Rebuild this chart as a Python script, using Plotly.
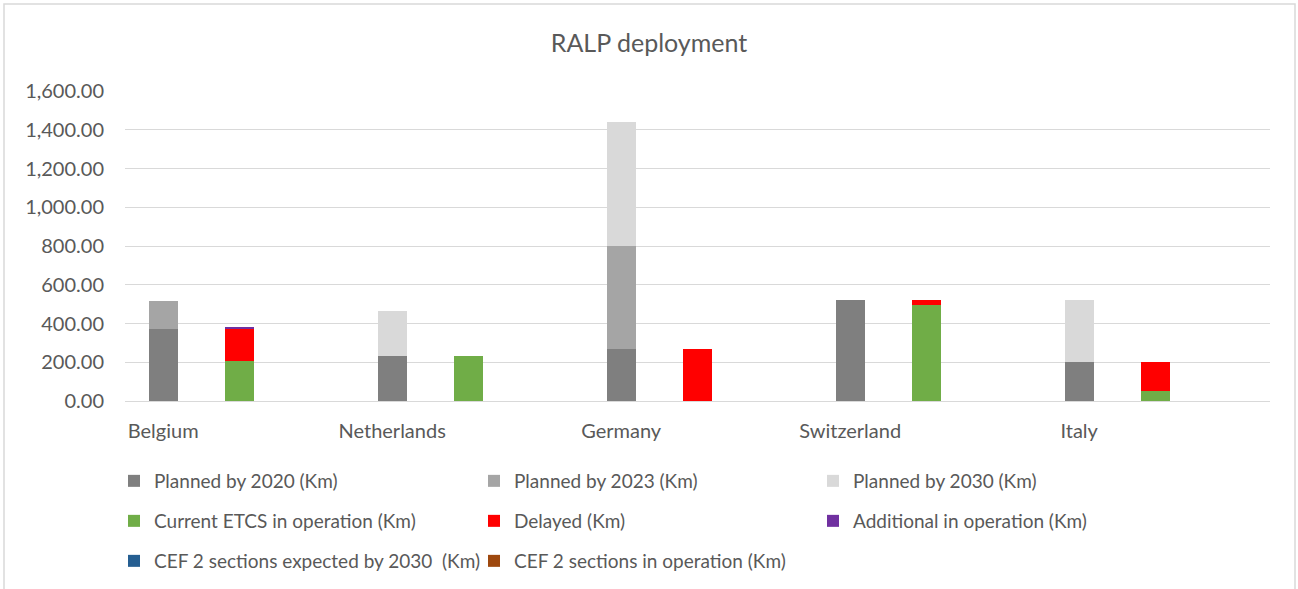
import plotly.graph_objects as go

countries = ['Belgium', 'Netherlands', 'Germany', 'Switzerland', 'Italy']

# planned stack (first bar of each country)
planned_2020 = [370, 234, 267, 522, 203]
planned_2023 = [147, None, 534, None, None]
planned_2030 = [None, 229, 639, None, 319]

# status stack (second bar of each country)
current_etcs = [208, 232, None, 498, 52]
delayed = [166, None, 267, 24, 151]
additional = [5, None, None, None, None]
cef2_expected = [None, None, None, None, None]
cef2_operation = [None, None, None, None, None]

# three slots per country: planned, status, gap
planned_x = [3 * i for i in range(len(countries))]
status_x = [3 * i + 1 for i in range(len(countries))]

font = 'Lato'
grey = '#595959'

fig = go.Figure()

series = [
    ('Planned by 2020 (Km)', planned_2020, planned_x, '#7f7f7f'),
    ('Planned by 2023 (Km)', planned_2023, planned_x, '#a5a5a5'),
    ('Planned by 2030 (Km)', planned_2030, planned_x, '#d9d9d9'),
    ('Current ETCS in operation (Km)', current_etcs, status_x, '#70ad47'),
    ('Delayed (Km)', delayed, status_x, '#ff0000'),
    ('Additional in operation (Km)', additional, status_x, '#7030a0'),
    ('CEF 2 sections expected by 2030  (Km)', cef2_expected, status_x, '#255e91'),
    ('CEF 2 sections in operation (Km)', cef2_operation, status_x, '#9e480e'),
]

# Excel-like legend grid: 3 columns, 3 rows, one small legend per entry
col_px = [134, 494, 833]
row_px = [481, 521, 561]
legends = {}
for i, (name, vals, xs, col) in enumerate(series):
    lid = 'legend' if i == 0 else 'legend%d' % (i + 1)
    fig.add_trace(go.Bar(x=xs, y=vals, name=name, marker_color=col,
                         marker_line_width=0, legend=lid, showlegend=True))
    legends[lid] = dict(orientation='h', xref='container', yref='container',
                        xanchor='left', yanchor='middle',
                        x=(col_px[i % 3] - 20) / 1298,
                        y=1 - row_px[i // 3] / 589,
                        font=dict(family=font, size=19, color=grey),
                        bgcolor='rgba(0,0,0,0)')

fig.update_layout(
    width=1298, height=589,
    showlegend=True,
    barmode='stack', bargap=0.62,
    margin=dict(l=125, r=28, t=91, b=188),
    paper_bgcolor='white', plot_bgcolor='white',
    font=dict(family=font, color=grey),
    title=dict(text='RALP deployment', x=0.5, xanchor='center',
               xref='container', yref='container', y=1 - 43 / 589,
               yanchor='middle', font=dict(family=font, size=25, color=grey)),
    xaxis=dict(range=[-0.5, 14.5], tickvals=planned_x, ticktext=countries,
               showgrid=False, zeroline=False, showline=False,
               tickfont=dict(size=20, color=grey), ticklabelstandoff=16),
    yaxis=dict(range=[0, 1600], dtick=200, tickformat=',.2f',
               gridcolor='#d9d9d9', gridwidth=1, zeroline=True,
               zerolinecolor='#d9d9d9', zerolinewidth=1, showline=False,
               tickfont=dict(size=20, color=grey), ticklabelstandoff=20),
    shapes=[dict(type='rect', xref='paper', yref='paper',
                 x0=(4 - 125) / 1145, x1=(1295 - 125) / 1145,
                 y0=(401 - 600) / 310, y1=(401 - 4) / 310,
                 line=dict(color='#d9d9d9', width=1.5), layer='below')],
    **legends,
)

fig.write_html('out.html', config={'displayModeBar': False},
               post_script="document.body.style.margin='0';")
